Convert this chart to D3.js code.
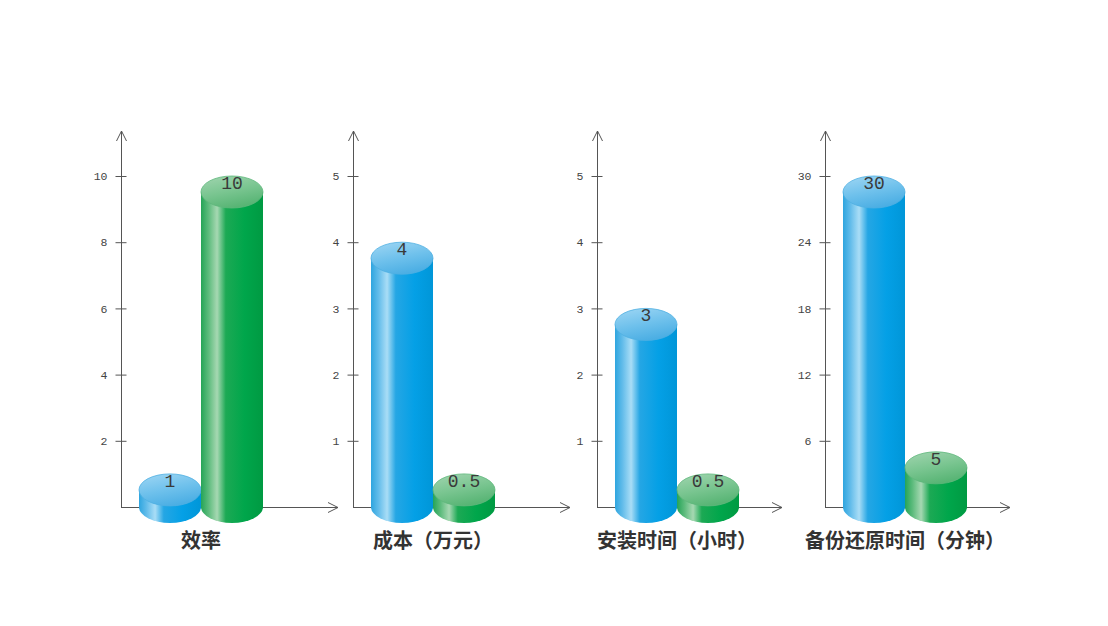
<!DOCTYPE html>
<html><head><meta charset="utf-8">
<script src="https://cdn.jsdelivr.net/npm/d3@7"></script>
<style>html,body{margin:0;padding:0;background:#fff;}svg{display:block;}</style>
</head><body>
<svg id="chart" width="1108" height="626"></svg>
<script>
// ---- data ----
const categories = ["效率", "成本（万元）", "安装时间（小时）", "备份还原时间（分钟）"];
const seriesNames = ["A", "B"];
const blueValues = [1, 4, 3, 30];
const greenValues = [10, 0.5, 0.5, 5];
const valueLabels = [["1", "10"], ["4", "0.5"], ["3", "0.5"], ["30", "5"]];
const tickValues = [[2, 4, 6, 8, 10], [1, 2, 3, 4, 5], [1, 2, 3, 4, 5], [6, 12, 18, 24, 30]];

// ---- layout ----
const panelX = [121, 353, 597, 825];
const panelLen = [217, 217, 185, 185];
const baseY = 507, topTickY = 176, axisTopY = 131;
const barOffset = 18, barW = 62, ry = 16;

const svg = d3.select("#chart");
const defs = svg.append("defs");

function hGrad(id, stops) {
  const g = defs.append("linearGradient").attr("id", id).attr("x1", "0").attr("x2", "1").attr("y1", "0").attr("y2", "0");
  stops.forEach(s => g.append("stop").attr("offset", s[0]).attr("stop-color", s[1]));
}
function vGrad(id, stops) {
  const g = defs.append("linearGradient").attr("id", id).attr("x1", "0.2").attr("x2", "0.6").attr("y1", "0").attr("y2", "1");
  stops.forEach(s => g.append("stop").attr("offset", s[0]).attr("stop-color", s[1]));
}
hGrad("bodyBlue", [[0, "#2ea5df"], [0.12, "#62bcea"], [0.26, "#a9ddf6"], [0.4, "#25a6e4"], [0.7, "#04a0e6"], [1, "#0096d8"]]);
vGrad("topBlue", [[0, "#9ad4f3"], [0.5, "#6fc1ec"], [1, "#49ade3"]]);
hGrad("bodyGreen", [[0, "#25a457"], [0.12, "#5cbb7c"], [0.26, "#a6d8b2"], [0.4, "#1ca954"], [0.7, "#00a64b"], [1, "#009a42"]]);
vGrad("topGreen", [[0, "#9dd3ac"], [0.5, "#79c590"], [1, "#55b372"]]);

const colors = [
  {body: "url(#bodyBlue)", top: "url(#topBlue)", stroke: "#4fb0e2"},
  {body: "url(#bodyGreen)", top: "url(#topGreen)", stroke: "#5fb87c"}
];

categories.forEach((cat, i) => {
  const g = svg.append("g");
  const x0 = panelX[i];
  const ticks = tickValues[i];
  const y = d3.scaleLinear().domain([0, d3.max(ticks)]).range([baseY, topTickY]);
  const x = d3.scaleBand().domain(seriesNames).range([x0 + barOffset, x0 + barOffset + 2 * barW]).padding(0);

  // y axis line + arrow
  g.append("line").attr("x1", x0 + 0.5).attr("x2", x0 + 0.5).attr("y1", baseY).attr("y2", axisTopY)
    .attr("stroke", "#555").attr("stroke-width", 1);
  g.append("path").attr("d", `M${x0 - 4.5},${axisTopY + 10}L${x0 + 0.5},${axisTopY}L${x0 + 5.5},${axisTopY + 10}`)
    .attr("fill", "none").attr("stroke", "#555");

  // ticks via d3 axis
  const axis = d3.axisLeft(y).tickValues(ticks).tickSize(0).tickPadding(0).tickFormat(d3.format("d"));
  const ag = g.append("g").attr("transform", `translate(${x0 + 0.5},0)`).call(axis);
  ag.select(".domain").remove();
  ag.selectAll(".tick").append("line").attr("x1", -6).attr("x2", 5).attr("stroke", "#555");
  ag.selectAll(".tick text").attr("x", -14).attr("font-family", "Liberation Mono, monospace")
    .attr("font-size", 11.5).attr("fill", "#444");

  // x axis line + arrow
  const xEnd = x0 + panelLen[i];
  g.append("line").attr("x1", x0).attr("x2", xEnd).attr("y1", baseY + 0.5).attr("y2", baseY + 0.5)
    .attr("stroke", "#555");
  g.append("path").attr("d", `M${xEnd - 10},${baseY - 4.5}L${xEnd},${baseY + 0.5}L${xEnd - 10},${baseY + 5.5}`)
    .attr("fill", "none").attr("stroke", "#555");

  // cylinders
  const vals = [blueValues[i], greenValues[i]];
  vals.forEach((v, k) => {
    const bx = x(seriesNames[k]);
    const bw = x.bandwidth();
    const rx = bw / 2;
    const cx = bx + rx;
    const cyTop = y(v) + ry;
    const c = colors[k];
    g.append("path")
      .attr("d", `M${bx},${cyTop}L${bx},${baseY}A${rx},${ry} 0 0 0 ${bx + bw},${baseY}L${bx + bw},${cyTop}Z`)
      .attr("fill", c.body);
    g.append("ellipse").attr("cx", cx).attr("cy", cyTop).attr("rx", rx).attr("ry", ry)
      .attr("fill", c.top).attr("stroke", c.stroke).attr("stroke-width", 0.8);
    g.append("text").attr("x", cx).attr("y", cyTop - 8).attr("text-anchor", "middle")
      .attr("dominant-baseline", "central").attr("font-family", "Liberation Mono, monospace")
      .attr("font-size", 18).attr("fill", "#3a3a3a").text(valueLabels[i][k]);
  });

  // category label
  g.append("text").attr("x", x0 + barOffset + barW).attr("y", 548).attr("text-anchor", "middle")
    .attr("font-family", "Noto Sans CJK SC, sans-serif").attr("font-weight", "bold")
    .attr("font-size", 20).attr("fill", "#333").text(cat);
});
</script>
</body></html>
